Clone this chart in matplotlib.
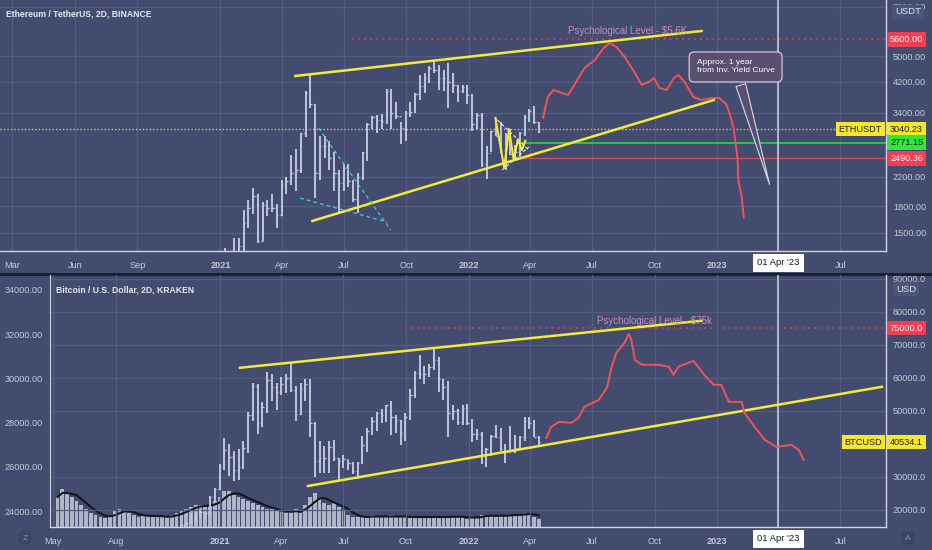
import pandas as pd
import matplotlib
matplotlib.use('Agg')
import matplotlib.pyplot as plt
from matplotlib.transforms import blended_transform_factory
from matplotlib.lines import Line2D

plt.rcParams['font.family'] = ['Liberation Sans', 'DejaVu Sans']

BG = '#434c6e'
GRID = '#525c7e'
AXC = '#cfd3e3'
TXT = '#c6cad8'
CANDLE = '#bfc5dd'
YEL = '#f3ea3a'
RED = '#f0525c'
TAG_RED = '#f23e52'
TAG_YEL = '#f5e62e'
TAG_GRN = '#2ee83c'

# ---- ETH / USDT weekly bars, first week 2020-12-07
eth_start = '2020-12-07'
eth_high = [600, 680, 690, 1000, 1350, 1260, 1450, 1450, 1750, 1880,
            2040, 1950, 1850, 1880, 1950, 1830, 2150, 2200, 2550, 2650,
            2950, 3950, 4380, 3600, 2900, 2900, 2800, 2600, 2300, 2400,
            2400, 2150, 2250, 2600, 3170, 3330, 3350, 3370, 4000, 4000,
            3650, 3200, 3450, 3650, 3880, 4380, 4450, 4660, 4870, 4690,
            4560, 4780, 4450, 4100, 4100, 4100, 3850, 3400, 3400, 2700,
            3000, 3280, 3200, 2950, 3050, 2730, 2980, 3350, 3480, 3550,
            3200]
eth_low = [530, 580, 560, 720, 900, 950, 1100, 1150, 1300, 1550,
           1700, 1400, 1420, 1680, 1730, 1550, 1680, 1950, 2080, 2000,
           2250, 2880, 3500, 1900, 2150, 2500, 2300, 2000, 1700, 2000,
           2050, 1850, 1720, 2150, 2450, 3050, 2950, 3050, 3150, 3050,
           3250, 2750, 2800, 3300, 3400, 3700, 3900, 4150, 4450, 3980,
           3950, 3500, 3900, 3650, 3900, 3600, 3000, 3050, 2350, 2160,
           2600, 2900, 2580, 2300, 2550, 2450, 2510, 2900, 3200, 3150,
           2950]
eth_close = [590, 640, 685, 975, 1090, 1230, 1230, 1370, 1600, 1780,
             1930, 1420, 1810, 1780, 1780, 1690, 2080, 2140, 2250, 2300,
             2950, 3900, 3600, 2250, 2700, 2700, 2500, 2250, 2100, 2330,
             2140, 1890, 2200, 2600, 3150, 3310, 3230, 3220, 3930, 3400,
             3330, 3060, 3400, 3420, 3850, 4080, 4300, 4620, 4560, 4300,
             4300, 4200, 4100, 3950, 4050, 3830, 3150, 3350, 2400, 2580,
             3000, 2900, 2630, 2800, 2570, 2600, 2950, 3300, 3450, 3200,
             3040.23]

# ---- BTC / USD weekly bars, first week 2020-10-05
btc_start = '2020-10-05'
btc_high = [11500, 11700, 13350, 14100, 15900, 16400, 18800, 19400, 19900, 19400,
            24200, 26800, 34000, 41900, 40100, 37800, 38500, 40900, 49700, 58300,
            58000, 52600, 61800, 61200, 58400, 60200, 61300, 64900, 57500, 58400,
            59600, 59600, 46600, 40900, 39500, 40900, 41300, 35700, 36600, 35100,
            34500, 34500, 42500, 44700, 48000, 49600, 50500, 51900, 52900, 48800,
            47300, 49200, 56500, 62000, 67000, 63700, 64200, 69000, 66300, 59500,
            59100, 51900, 50500, 51800, 52000, 47500, 44500, 43500, 38900, 42700,
            45800, 44700, 40000, 45400, 42600, 42300, 48000, 48200, 47200, 42400]
btc_low = [10500, 11200, 11400, 12900, 13200, 14800, 15900, 16200, 18000, 17600,
           19000, 22400, 25900, 32000, 30400, 28900, 29200, 32300, 37300, 47000,
           43000, 45000, 49300, 53000, 50400, 54700, 55500, 55600, 47000, 48800,
           53000, 42000, 30000, 31200, 31100, 31100, 34800, 28800, 32700, 32100,
           31000, 29300, 34000, 37500, 42800, 43900, 46400, 46500, 42800, 43400,
           39600, 40800, 47100, 53900, 59700, 58000, 60100, 62300, 55700, 53300,
           42000, 47300, 45600, 45600, 45700, 40600, 41200, 34000, 32900, 36300,
           41700, 38000, 34300, 37400, 37200, 38100, 40900, 44400, 42100, 39200]
btc_close = [11400, 11500, 13050, 13800, 15500, 16000, 18400, 18200, 19400, 19200,
             23800, 26400, 33000, 38200, 36000, 32200, 33100, 38900, 48600, 57500,
             46200, 51200, 59400, 57300, 55800, 58200, 60000, 56200, 49000, 56600,
             58200, 46400, 34700, 35700, 35800, 39100, 35600, 34700, 35300, 34200,
             31800, 34300, 39800, 43800, 47000, 49300, 48800, 51700, 48200, 47300,
             43200, 48200, 54900, 61500, 61100, 61300, 63300, 65500, 59700, 57200,
             49400, 50100, 46700, 50800, 46400, 43100, 43100, 36300, 38500, 42400,
             42200, 38400, 37700, 38000, 38800, 42200, 46800, 46400, 42200, 40534.1]

# ---- BTC weekly volume (relative), first week 2020-05-04
vol_start = '2020-05-04'
btc_volume = [30, 38, 34, 30, 26, 22, 18, 14, 12, 10, 9, 12, 16, 18, 16, 14, 12, 10,
              11, 12, 11, 10, 10, 10, 12, 14, 16, 18, 20, 22, 22, 20, 22, 26, 30,
              36, 36, 32, 30, 28, 26, 24, 22, 20, 18, 18, 16, 15, 14, 16, 18, 14,
              22, 30, 34, 28, 24, 22, 24, 20, 16, 12, 10, 10, 10, 10, 12, 10, 10,
              10, 12, 10, 10, 10, 10, 10, 10, 10, 10, 10, 10, 10, 10, 11, 10, 10,
              8, 10, 10, 12, 12, 11, 10, 12, 12, 12, 12, 12, 14, 14, 10, 8]

# ---- drawings, top panel (ETH)
eth_upper_dates = ['2021-04-21', '2022-12-09']
eth_upper_prices = [4365, 5930]
eth_lower_dates = ['2021-05-16', '2022-12-27']
eth_lower_prices = [1626, 3706]
eth_cyan_a_dates = ['2021-05-25', '2021-09-08']
eth_cyan_a_prices = [3062, 1529]
eth_cyan_b_dates = ['2021-04-28', '2021-09-03']
eth_cyan_b_prices = [1900, 1614]
eth_zig_dates = ['2022-02-09', '2022-02-22', '2022-03-01', '2022-03-08',
                 '2022-03-14', '2022-03-20', '2022-03-25']
eth_zig_prices = [3279, 2333, 3041, 2462, 2836, 2636, 2808]
eth_tri_a_dates = ['2022-02-12', '2022-03-30']
eth_tri_a_prices = [3234, 2636]
eth_tri_b_dates = ['2022-02-19', '2022-03-30']
eth_tri_b_prices = [2300, 2690]
eth_fc_dates = ['2022-04-20', '2022-04-27', '2022-05-05', '2022-05-14', '2022-05-27',
                '2022-06-11', '2022-06-20', '2022-07-05', '2022-07-18', '2022-07-27',
                '2022-08-06', '2022-08-18', '2022-09-02', '2022-09-12', '2022-09-22',
                '2022-09-30', '2022-10-08', '2022-10-19', '2022-10-29', '2022-11-05',
                '2022-11-14', '2022-11-27', '2022-12-09', '2022-12-24', '2023-01-04',
                '2023-01-14', '2023-01-19', '2023-01-25', '2023-01-28', '2023-01-31',
                '2023-02-01', '2023-02-06', '2023-02-09']
eth_fc_prices = [3279, 3782, 3967, 3913, 3834, 4304, 4608, 4867, 5281, 5464,
                 5316, 4966, 4454, 4105, 4190, 4304, 4022, 3967, 4304, 4394,
                 4190, 3782, 3706, 3756, 3756, 3606, 3391, 3062, 2764, 2462,
                 2148, 1913, 1658]
eth_psych = 5600
eth_psych_from = '2021-07-14'
eth_last = 3040.23
eth_green = 2771.15
eth_green_from = '2022-03-13'
eth_red = 2490.36
eth_red_from = '2022-03-10'

# ---- drawings, bottom panel (BTC)
btc_upper_dates = ['2021-01-30', '2022-12-09']
btc_upper_prices = [63030, 77270]
btc_lower_dates = ['2021-05-10', '2023-08-31']
btc_lower_prices = [27273, 57273]
btc_fc_dates = ['2022-04-25', '2022-05-02', '2022-05-14', '2022-06-01', '2022-06-11',
                '2022-06-20', '2022-07-11', '2022-07-23', '2022-07-30', '2022-08-06',
                '2022-08-18', '2022-08-24', '2022-08-28', '2022-09-02', '2022-09-12',
                '2022-10-07', '2022-10-22', '2022-10-29', '2022-11-05', '2022-11-27',
                '2022-12-13', '2022-12-27', '2023-01-07', '2023-01-18', '2023-02-06',
                '2023-02-10', '2023-02-25', '2023-03-12', '2023-03-29', '2023-04-20',
                '2023-05-01', '2023-05-08']
btc_fc_prices = [41818, 45152, 46667, 46364, 47879, 51212, 53333, 56970, 63333, 67576,
                 70606, 73333, 71515, 65455, 63939, 63939, 63333, 60909, 63333, 65152,
                 60909, 57879, 57879, 52727, 52727, 49394, 45152, 41212, 39091, 39697,
                 38182, 35152]
btc_psych = 75000
btc_psych_from = '2021-09-30'
btc_last = 40534.1

marker_date = '2023-04-01'

top_xticks = ['2020-03-01', '2020-06-01', '2020-09-01', '2021-01-01', '2021-04-01',
              '2021-07-01', '2021-10-01', '2022-01-01', '2022-04-01', '2022-07-01',
              '2022-10-01', '2023-01-01', '2023-04-01', '2023-07-01']
top_xlabels = ['Mar', 'Jun', 'Sep', '2021', 'Apr', 'Jul', 'Oct', '2022', 'Apr', 'Jul',
               'Oct', '2023', '', 'Jul']
bot_xticks = ['2020-05-01', '2020-08-01', '2021-01-01', '2021-04-01', '2021-07-01',
              '2021-10-01', '2022-01-01', '2022-04-01', '2022-07-01', '2022-10-01',
              '2023-01-01', '2023-04-01', '2023-07-01']
bot_xlabels = ['May', 'Aug', '2021', 'Apr', 'Jul', 'Oct', '2022', 'Apr', 'Jul', 'Oct',
               '2023', '', 'Jul']
eth_yticks = [1500, 1800, 2200, 3400, 4200, 5000, 7000]
btc_yticks = [20000, 30000, 50000, 60000, 70000, 80000, 90000]
left_yticks = [24000, 26000, 28000, 30000, 32000, 34000]

D = pd.to_datetime


def draw_bars(ax, start, high, low, close):
    d = pd.date_range(start, periods=len(close), freq='7D') + pd.Timedelta(days=3)
    opens = [close[0]] + close[:-1]
    ax.vlines(d, low, high, color=CANDLE, lw=1.4, zorder=3)
    ax.hlines(opens, d - pd.Timedelta(days=2.2), d, color=CANDLE, lw=1, zorder=3)
    ax.hlines(close, d, d + pd.Timedelta(days=2.2), color=CANDLE, lw=1, zorder=3)


def style(ax, xticks, xlabels):
    ax.set_facecolor(BG)
    for s in ['top', 'left']:
        ax.spines[s].set_visible(False)
    for s in ['bottom', 'right']:
        ax.spines[s].set_color(AXC)
        ax.spines[s].set_linewidth(1)
    ax.yaxis.tick_right()
    ax.set_xticks(D(xticks), xlabels)
    for lbl in ax.get_xticklabels():
        if lbl.get_text().isdigit():
            lbl.set_fontweight('bold')
    ax.tick_params(axis='both', length=0, colors=TXT, labelsize=6.6)
    ax.tick_params(axis='x', pad=7)
    ax.tick_params(axis='y', pad=5)
    ax.grid(True, color=GRID, lw=0.9)
    ax.set_axisbelow(True)


def tag(ax, y, s, fc, tc, x=None, ha='left'):
    tr = blended_transform_factory(ax.transAxes, ax.transData)
    ax.text(x, y, s, transform=tr, ha=ha, va='center', fontsize=6.6, color=tc,
            bbox=dict(boxstyle='square,pad=0.3', fc=fc, ec='none'),
            clip_on=False, zorder=10)


def date_box(ax):
    tr = blended_transform_factory(ax.transData, ax.transAxes)
    ax.text(D(marker_date), -0.047, "01 Apr '23", transform=tr, ha='center', va='center',
            fontsize=6.8, color='#131722',
            bbox=dict(boxstyle='square,pad=0.45', fc='white', ec='none'),
            clip_on=False, zorder=10)


fig = plt.figure(figsize=(9.32, 5.5), dpi=100)
fig.patch.set_facecolor(BG)

# ================= top panel =================
ax1 = fig.add_axes([0, 1 - 251 / 550, 886 / 932, 251 / 550])
ax1.set_yscale('log')
style(ax1, top_xticks, top_xlabels)
ax1.yaxis.set_minor_locator(matplotlib.ticker.NullLocator())
ax1.set_yticks(eth_yticks, ['%.2f' % v for v in eth_yticks])
ax1.set_ylim(1325, 7323)
ax1.set_xlim(D('2020-02-12'), D('2023-09-06'))

draw_bars(ax1, eth_start, eth_high, eth_low, eth_close)
ax1.axhline(eth_last, color='#c9c48a', lw=1, ls=(0, (1, 1.5)), zorder=2)
ax1.hlines(eth_psych, D(eth_psych_from), D('2023-09-30'), color=TAG_RED, lw=1.1,
           ls=(0, (1, 3)), zorder=2)
ax1.hlines(eth_green, D(eth_green_from), D('2023-09-30'), color='#2fd43c', lw=1.2, zorder=2)
ax1.hlines(eth_red, D(eth_red_from), D('2023-09-30'), color='#e8404e', lw=1, zorder=2)
ax1.plot(D(eth_upper_dates), eth_upper_prices, color=YEL, lw=1.8, zorder=4)
ax1.plot(D(eth_lower_dates), eth_lower_prices, color=YEL, lw=1.8, zorder=4)
ax1.plot(D(eth_cyan_a_dates), eth_cyan_a_prices, color='#4fc6d2', lw=0.9, ls=(0, (3, 2.5)), zorder=4)
ax1.plot(D(eth_cyan_b_dates), eth_cyan_b_prices, color='#4fc6d2', lw=0.9, ls=(0, (3, 2.5)), zorder=4)
ax1.plot(D(eth_tri_a_dates), eth_tri_a_prices, color='#e3e6f2', lw=0.8, ls=(0, (3, 2)), zorder=4)
ax1.plot(D(eth_tri_b_dates), eth_tri_b_prices, color='#e3e6f2', lw=0.8, ls=(0, (3, 2)), zorder=4)
ax1.plot(D(eth_zig_dates), eth_zig_prices, color=YEL, lw=1.5, zorder=5)
ax1.plot(D(eth_fc_dates), eth_fc_prices, color=RED, lw=1.4, zorder=5, solid_capstyle='round')
ax1.axvline(D(marker_date), color=AXC, lw=1.1, zorder=3)

ax1.text(D('2022-05-26'), 5930, 'Psychological Level - $5.6K', color='#c98bc3',
         fontsize=7, va='center', ha='left', zorder=6)
ax1.annotate('Approx. 1 year\nfrom Inv. Yield Curve', xy=(D('2023-03-20'), 2048),
             xytext=(D('2023-01-28'), 4640), ha='center', va='center', fontsize=6,
             color='white', multialignment='left', zorder=8,
             bbox=dict(boxstyle='round,pad=0.9,rounding_size=0.6', fc='#5a4f70',
                       ec='#d8d9e8', lw=0.8),
             arrowprops=dict(arrowstyle='wedge,tail_width=1.2,shrink_factor=0.5',
                             fc='#5a4f70', ec='#d8d9e8', lw=0.8))

ax1.text(6 / 886, 1 - 14 / 251, 'Ethereum / TetherUS, 2D, BINANCE', transform=ax1.transAxes,
         color='#e6e8f0', fontsize=6.2, fontweight='bold', va='center', ha='left')

tag(ax1, eth_psych, '5600.00', TAG_RED, 'white', x=1 + 4 / 886)
tag(ax1, eth_last, '3040.23', TAG_YEL, '#222222', x=1 + 4 / 886)
tag(ax1, eth_green, '2771.15', TAG_GRN, '#111111', x=1 + 4 / 886)
tag(ax1, eth_red, '2490.36', TAG_RED, 'white', x=1 + 4 / 886)
tag(ax1, eth_last, 'ETHUSDT', TAG_YEL, '#222222', x=1 - 4 / 886, ha='right')
date_box(ax1)

# ================= bottom panel =================
ax2 = fig.add_axes([50 / 932, 1 - 527 / 550, 836 / 932, 252 / 550])
style(ax2, bot_xticks, bot_xlabels)
ax2.set_ylim(14856, 91104)
ax2.set_xlim(D('2020-04-26'), D('2023-09-06'))
ax2.spines['left'].set_visible(True)
ax2.spines['left'].set_color(AXC)

# left scale
ax2l = ax2.twinx()
ax2l.set_ylim(23278, 34677)
ax2l.yaxis.set_ticks_position('left')
ax2l.set_yticks(left_yticks, ['%.2f' % v for v in left_yticks])
ax2l.tick_params(axis='y', length=0, colors=TXT, labelsize=6.6, pad=5)
for s in ax2l.spines.values():
    s.set_visible(False)

# volume
axv = ax2.twinx()
axv.set_ylim(0, 252)
axv.axis('off')
vd = pd.date_range(vol_start, periods=len(btc_volume), freq='7D') + pd.Timedelta(days=3)
axv.bar(vd, btc_volume, width=5.5, color='#c4c8d8', alpha=0.85, zorder=1)
vma = pd.Series(btc_volume).rolling(4, min_periods=1).mean()
axv.plot(vd, vma, color='#14161e', lw=1.5, zorder=2)

# twinx moves the main ticks to the left: put BTC price scale back on the right
ax2.yaxis.tick_right()
ax2.set_yticks(btc_yticks, ['%.1f' % v for v in btc_yticks])
ax2.tick_params(axis='y', length=0, colors=TXT, labelsize=6.6, pad=5)

ax2.set_zorder(3)
ax2.patch.set_visible(False)
axv.set_zorder(1)
ax2l.set_zorder(2)

draw_bars(ax2, btc_start, btc_high, btc_low, btc_close)
ax2.hlines(btc_psych, D(btc_psych_from), D('2023-09-30'), color=TAG_RED, lw=1.1,
           ls=(0, (1, 3)), zorder=2)
ax2.plot(D(btc_upper_dates), btc_upper_prices, color=YEL, lw=1.8, zorder=4)
ax2.plot(D(btc_lower_dates), btc_lower_prices, color=YEL, lw=1.8, zorder=4)
ax2.plot(D(btc_fc_dates), btc_fc_prices, color=RED, lw=1.4, zorder=5)
ax2.axvline(D(marker_date), color=AXC, lw=1.1, zorder=3)
ax2.text(D('2022-07-09'), 77186, 'Psychological Level - $75k', color='#c98bc3',
         fontsize=7, va='center', ha='left', zorder=6)
ax2.text(6 / 836, (527 - 290) / 252, 'Bitcoin / U.S. Dollar, 2D, KRAKEN', transform=ax2.transAxes,
         color='#e6e8f0', fontsize=6.2, fontweight='bold', va='center', ha='left')

tag(ax2, btc_psych, '75000.0', TAG_RED, 'white', x=1 + 4 / 836)
tag(ax2, btc_last, '40534.1', TAG_YEL, '#222222', x=1 + 4 / 836)
tag(ax2, btc_last, 'BTCUSD', TAG_YEL, '#222222', x=1 - 4 / 836, ha='right')
date_box(ax2)

# panel separator and corner widgets
fig.add_artist(Line2D([0, 1], [1 - 274 / 550] * 2, color='#1c2030', lw=2.2))
fig.text(908 / 932, 1 - 12 / 550, 'USDT', ha='center', va='center', fontsize=6.8, color='#dfe2ec',
         bbox=dict(boxstyle='round,pad=0.3', fc='#4c5579', ec='none'))
fig.text(906 / 932, 1 - 289 / 550, 'USD', ha='center', va='center', fontsize=6.8, color='#dfe2ec',
         bbox=dict(boxstyle='round,pad=0.3', fc='#4c5579', ec='none'))
fig.text(25 / 932, 1 - 538 / 550, 'Z', ha='center', va='center', fontsize=6, color='#8c93ad',
         bbox=dict(boxstyle='circle,pad=0.45', fc='#3c4464', ec='none'))
fig.text(908 / 932, 1 - 538 / 550, 'A', ha='center', va='center', fontsize=6, color='#8c93ad',
         bbox=dict(boxstyle='circle,pad=0.45', fc='#3c4464', ec='none'))

fig.savefig('out.png', dpi=100, facecolor=BG)
